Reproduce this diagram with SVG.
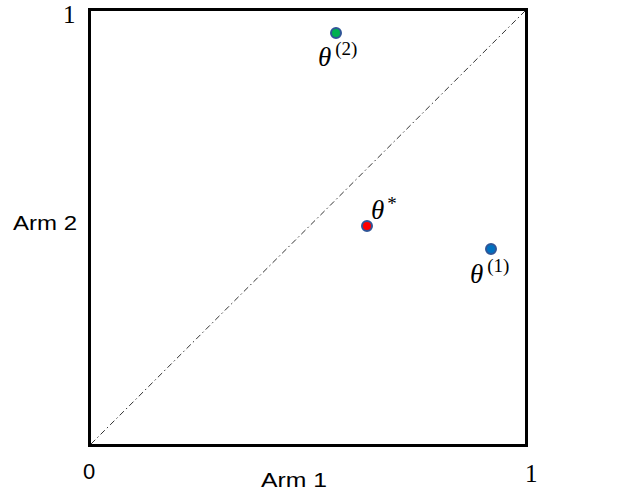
<svg xmlns="http://www.w3.org/2000/svg" width="619" height="493" viewBox="0 0 619 493">
<style>
.lbl{font-family:"Liberation Sans",Arial,sans-serif;font-size:20px;fill:#000}
.num{font-family:"Liberation Serif","Times New Roman",serif;font-size:25px;fill:#000}
.th{font-family:"Liberation Serif","Times New Roman",serif;font-size:27px;font-style:italic;fill:#000}
.sup{font-family:"Liberation Serif","Times New Roman",serif;font-size:19px;font-style:normal}
.pt{stroke:#2f5597;stroke-width:2}
</style>
<rect width="619" height="493" fill="#fff"/>
<g id="frame">
<rect x="89.5" y="9.5" width="437" height="436" fill="none" stroke="#000" stroke-width="3"/>
</g>
<g id="connectors">
<line x1="91" y1="444" x2="525" y2="11" stroke="#333" stroke-width="1" stroke-dasharray="6,3,1.5,3"/>
</g>
<g id="axis-labels">
<text class="num" x="63" y="23">1</text>
<text class="lbl" x="83" y="479" style="font-size:22px">0</text>
<text class="num" x="525" y="482">1</text>
<text class="lbl" x="13" y="230" textLength="64" lengthAdjust="spacingAndGlyphs">Arm 2</text>
<text class="lbl" x="261" y="487" textLength="66" lengthAdjust="spacingAndGlyphs">Arm 1</text>
</g>
<g id="theta2">
<circle class="pt" cx="336" cy="33" r="5" fill="#00b050"/>
<text class="th" x="318" y="66">θ<tspan class="sup" dx="4" dy="-11">(2)</tspan></text>
</g>
<g id="thetastar">
<circle class="pt" cx="367" cy="226" r="5" fill="#ff0000"/>
<text class="th" x="371" y="219">θ<tspan class="sup" dx="3" dy="-9">*</tspan></text>
</g>
<g id="theta1">
<circle class="pt" cx="491" cy="249" r="5" fill="#0070c0"/>
<text class="th" x="470" y="283">θ<tspan class="sup" dx="4" dy="-11">(1)</tspan></text>
</g>
</svg>
